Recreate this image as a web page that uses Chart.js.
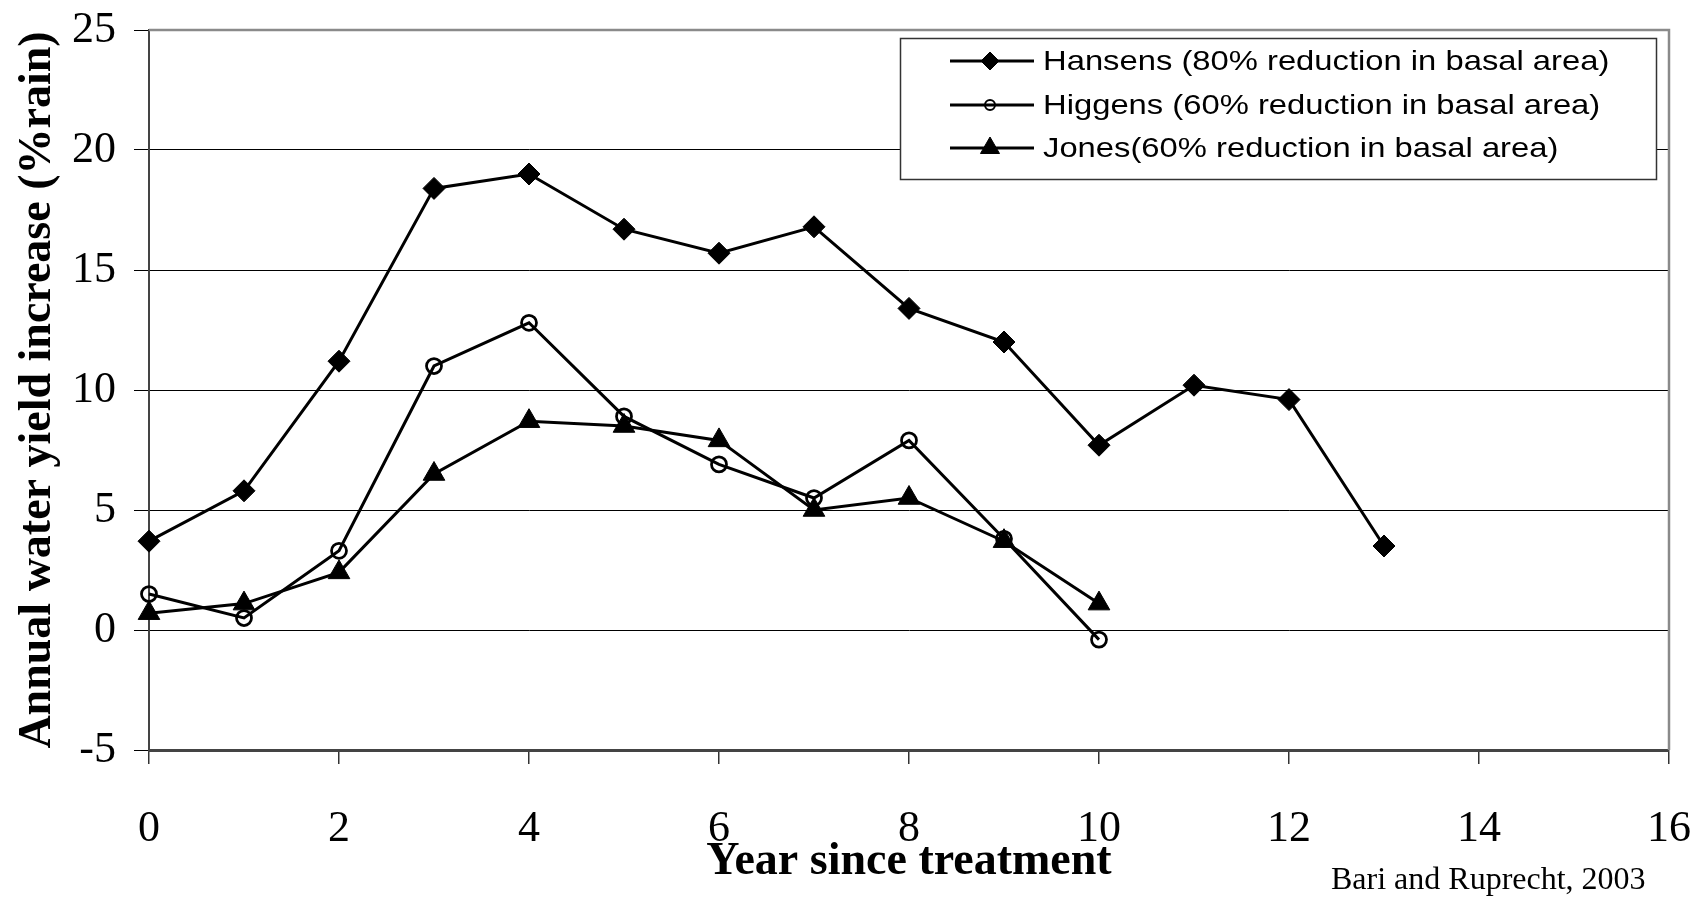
<!DOCTYPE html>
<html>
<head>
<meta charset="utf-8">
<title>Annual water yield increase</title>
<script src="https://cdn.jsdelivr.net/npm/chart.js@4.4.1/dist/chart.umd.min.js"></script>
<style>
  html, body { margin: 0; padding: 0; background: #fff; }
  canvas { display: block; }
</style>
</head>
<body>
<canvas id="chart" width="1697" height="898"></canvas>
<script>
// Datos (Bari and Ruprecht, 2003)
const years = [0, 1, 2, 3, 4, 5, 6, 7, 8, 9, 10, 11, 12, 13];
const hansens = [3.7, 5.8, 11.2, 18.4, 19.0, 16.7, 15.7, 16.8, 13.4, 12.0, 7.7, 10.2, 9.6, 3.5];
const higgens = [1.5, 0.5, 3.3, 11.0, 12.8, 8.9, 6.9, 5.5, 7.9, 3.8, -0.4];
const jones = [0.7, 1.1, 2.4, 6.5, 8.7, 8.5, 7.9, 5.0, 5.5, 3.7, 1.1];
const seriesNames = [
  "Hansens (80% reduction in basal area)",
  "Higgens (60% reduction in basal area)",
  "Jones(60% reduction in basal area)"
];
const xTicks = [0, 2, 4, 6, 8, 10, 12, 14, 16];
const yTicks = [-5, 0, 5, 10, 15, 20, 25];

const SERIF = "'Liberation Serif', 'Times New Roman', serif";
const SANS = "'Liberation Sans', Arial, sans-serif";

//Pasar a puntos {x, y}
const toPoints = (vals) => vals.map((v, i) => ({ x: years[i], y: v }));

//Quitar el relleno automatico de las escalas
const noScalePadding = (s) => {
  s.paddingTop = 0;
  s.paddingBottom = 0;
  s.paddingLeft = 0;
  s.paddingRight = 0;
};

//Marco gris arriba y a la derecha (estilo Excel)
const plotFrame = {
  id: 'plotFrame',
  beforeDatasetsDraw(chart) {
    const { ctx, chartArea: a } = chart;
    ctx.save();
    ctx.strokeStyle = '#8a8a8a';
    ctx.lineWidth = 2.5;
    ctx.beginPath();
    ctx.moveTo(a.left, a.top);
    ctx.lineTo(a.right, a.top);
    ctx.lineTo(a.right, a.bottom);
    ctx.stroke();
    ctx.restore();
  }
};

//Leyenda con caja dentro del area
const boxLegend = {
  id: 'boxLegend',
  afterDatasetsDraw(chart) {
    const ctx = chart.ctx;
    const rows = [61, 105, 148];
    const markerSize = [9, 5, 11];
    ctx.save();
    ctx.fillStyle = '#fff';
    ctx.fillRect(900, 38, 756, 141);
    ctx.strokeStyle = '#333';
    ctx.lineWidth = 1.5;
    ctx.strokeRect(900.5, 38.5, 756, 141);

    chart.data.datasets.forEach((ds, i) => {
      const y = rows[i];
      ctx.strokeStyle = '#000';
      ctx.lineWidth = 3;
      ctx.beginPath();
      ctx.moveTo(950, y);
      ctx.lineTo(1034, y);
      ctx.stroke();

      ctx.fillStyle = ds.pointBackgroundColor;
      ctx.lineWidth = ds.pointStyle === 'circle' ? 2 : 1;
      Chart.helpers.drawPoint(ctx, {
        pointStyle: ds.pointStyle, radius: markerSize[i], borderWidth: ctx.lineWidth, rotation: 0
      }, 990, y);

      ctx.save();
      ctx.translate(1043, y + 1);
      ctx.scale(1.17, 1);
      ctx.fillStyle = '#000';
      ctx.font = `28px ${SANS}`;
      ctx.textBaseline = 'middle';
      ctx.fillText(ds.label, 0, 0);
      ctx.restore();
    });
    ctx.restore();
  }
};

//Cita de la fuente
const sourceNote = {
  id: 'sourceNote',
  afterDraw(chart) {
    const ctx = chart.ctx;
    ctx.save();
    ctx.fillStyle = '#000';
    ctx.font = `32px ${SERIF}`;
    ctx.textBaseline = 'alphabetic';
    ctx.fillText('Bari and Ruprecht, 2003', 1331, 889);
    ctx.restore();
  }
};

const lineStyle = {
  borderColor: '#000',
  borderWidth: 3,
  pointBorderColor: '#000',
  showLine: true,
  fill: false,
  tension: 0,
  clip: false
};

new Chart(document.getElementById('chart').getContext('2d'), {
  type: 'scatter',
  data: {
    datasets: [
      { ...lineStyle, label: seriesNames[0], data: toPoints(hansens),
        pointStyle: 'rectRot', pointRadius: 11, pointBorderWidth: 1, pointBackgroundColor: '#000' },
      { ...lineStyle, label: seriesNames[1], data: toPoints(higgens),
        pointStyle: 'circle', pointRadius: 7.5, pointBorderWidth: 2.75, pointBackgroundColor: 'rgba(0,0,0,0)' },
      { ...lineStyle, label: seriesNames[2], data: toPoints(jones),
        pointStyle: 'triangle', pointRadius: 12.5, pointBorderWidth: 1, pointBackgroundColor: '#000' }
    ]
  },
  options: {
    responsive: false,
    animation: false,
    devicePixelRatio: 1,
    layout: { padding: { top: 30, right: 28, left: 0, bottom: 0 } },
    plugins: {
      legend: { display: false },
      tooltip: { enabled: false }
    },
    scales: {
      x: {
        type: 'linear',
        min: 0,
        max: 16,
        afterBuildTicks: (s) => { s.ticks = xTicks.map(v => ({ value: v })); },
        afterFit: (s) => { s.height = 148; noScalePadding(s); },
        grid: { display: true, drawOnChartArea: false, drawTicks: true, tickLength: 14, color: '#333', lineWidth: 1.5 },
        border: { display: true, color: '#444', width: 3 },
        ticks: {
          color: '#000',
          font: { family: SERIF, size: 44 },
          padding: 39,
          maxRotation: 0,
          autoSkip: false
        },
        title: {
          display: true,
          text: 'Year since treatment',
          color: '#000',
          font: { family: SERIF, size: 46, weight: 'bold' },
          padding: { top: 0, bottom: 8 }
        }
      },
      y: {
        min: -5,
        max: 25,
        afterBuildTicks: (s) => { s.ticks = yTicks.map(v => ({ value: v })); },
        afterFit: (s) => { s.width = 149; noScalePadding(s); },
        grid: { color: '#000', lineWidth: 1, drawTicks: true, tickLength: 15 },
        border: { display: true, color: '#444', width: 2 },
        ticks: {
          color: '#000',
          font: { family: SERIF, size: 44 },
          padding: 18
        },
        title: {
          display: true,
          text: 'Annual water yield increase (%rain)',
          color: '#000',
          font: { family: SERIF, size: 46, weight: 'bold' },
          padding: { top: 11, bottom: 0 }
        }
      }
    }
  },
  plugins: [plotFrame, boxLegend, sourceNote]
});
</script>
</body>
</html>
